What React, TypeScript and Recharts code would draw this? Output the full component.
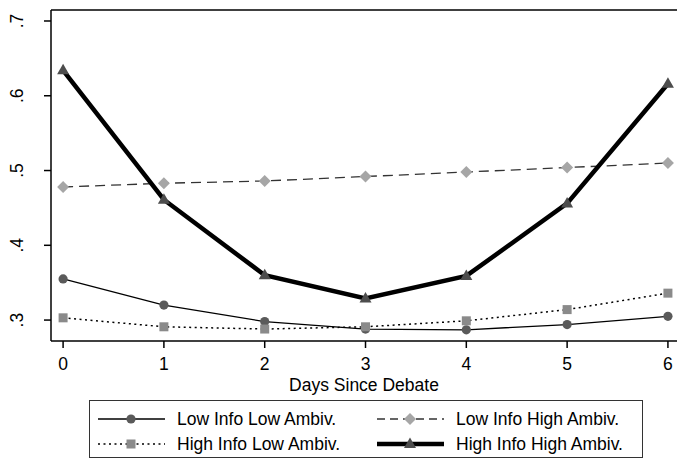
import { LineChart, Line, XAxis, YAxis, ReferenceLine, Label } from 'recharts';

const days = [0, 1, 2, 3, 4, 5, 6];
const lowInfoLowAmbiv = [0.355, 0.32, 0.298, 0.288, 0.287, 0.294, 0.305];
const lowInfoHighAmbiv = [0.478, 0.483, 0.486, 0.492, 0.498, 0.504, 0.51];
const highInfoLowAmbiv = [0.303, 0.291, 0.288, 0.291, 0.299, 0.314, 0.336];
const highInfoHighAmbiv = [0.634, 0.461, 0.36, 0.329, 0.359, 0.456, 0.616];
const yTicks = [0.3, 0.4, 0.5, 0.6, 0.7];

const X_MIN = -0.12;
const X_MAX = 6.09;
const Y_MIN = 0.272;
const Y_MAX = 0.7147;

const FONT = 'Arial, "Liberation Sans", sans-serif';
const FS = 17.5;

const data = days.map((d, i) => ({
  day: d,
  lowLow: lowInfoLowAmbiv[i],
  lowHigh: lowInfoHighAmbiv[i],
  highLow: highInfoLowAmbiv[i],
  highHigh: highInfoHighAmbiv[i],
}));

const circle = (fill: string) => (p: any) => (
  <circle key={`c${p.index}`} cx={p.cx} cy={p.cy} r={4.6} fill={fill} />
);
const square = (fill: string) => (p: any) => (
  <rect key={`s${p.index}`} x={p.cx - 4.5} y={p.cy - 4.5} width={9} height={9} fill={fill} />
);
const diamond = (fill: string) => (p: any) => (
  <polygon
    key={`d${p.index}`}
    points={`${p.cx},${p.cy - 6} ${p.cx + 6},${p.cy} ${p.cx},${p.cy + 6} ${p.cx - 6},${p.cy}`}
    fill={fill}
  />
);
const triangle = (fill: string) => (p: any) => (
  <polygon
    key={`t${p.index}`}
    points={`${p.cx},${p.cy - 6.5} ${p.cx + 6},${p.cy + 4} ${p.cx - 6},${p.cy + 4}`}
    fill={fill}
  />
);

const YTick = (props: any) => {
  const { y, payload } = props;
  return (
    <text
      x={23}
      y={y}
      transform={`rotate(-90, 23, ${y})`}
      textAnchor="middle"
      fontSize={FS}
      fontFamily={FONT}
      fill="#000"
    >
      {String(payload.value.toFixed(1)).replace(/^0/, '')}
    </text>
  );
};

const legendItems = [
  { label: 'Low Info Low Ambiv.', left: 8, top: 18, stroke: '#000', width: 1.3, dash: undefined, marker: 'circle', fill: '#5a5a5a' },
  { label: 'Low Info High Ambiv.', left: 287, top: 18, stroke: '#333', width: 1.3, dash: '8 5', marker: 'diamond', fill: '#a6a6a6' },
  { label: 'High Info Low Ambiv.', left: 8, top: 43, stroke: '#000', width: 1.5, dash: '2 3.5', marker: 'square', fill: '#8a8a8a' },
  { label: 'High Info High Ambiv.', left: 287, top: 43, stroke: '#000', width: 4.5, dash: undefined, marker: 'triangle', fill: '#4d4d4d' },
];

function Marker({ kind, fill, cx, cy }: { kind: string; fill: string; cx: number; cy: number }) {
  if (kind === 'circle') return <circle cx={cx} cy={cy} r={4.6} fill={fill} />;
  if (kind === 'square') return <rect x={cx - 4.5} y={cy - 4.5} width={9} height={9} fill={fill} />;
  if (kind === 'diamond')
    return <polygon points={`${cx},${cy - 6} ${cx + 6},${cy} ${cx},${cy + 6} ${cx - 6},${cy}`} fill={fill} />;
  return <polygon points={`${cx},${cy - 6.5} ${cx + 6},${cy + 4} ${cx - 6},${cy + 4}`} fill={fill} />;
}

export default function App() {
  return (
    <div style={{ position: 'absolute', left: 0, top: 0, width: 678, height: 462, background: '#fff', fontFamily: FONT }}>
      <LineChart width={678} height={400} data={data} margin={{ top: 10, right: 1, bottom: 8, left: 0 }}>
        <XAxis
          dataKey="day"
          type="number"
          domain={[X_MIN, X_MAX]}
          ticks={days}
          allowDataOverflow
          height={51}
          tickSize={7}
          tickMargin={9.5}
          stroke="#000"
          strokeWidth={1.5}
          tick={{ fill: '#000', fontSize: FS, fontFamily: FONT }}
        >
          <Label value="Days Since Debate" position="insideBottom" offset={1} fill="#000" fontSize={FS} fontFamily={FONT} />
        </XAxis>
        <YAxis
          type="number"
          domain={[Y_MIN, Y_MAX]}
          ticks={yTicks}
          allowDataOverflow
          width={51}
          tickSize={7}
          stroke="#000"
          strokeWidth={1.5}
          tick={<YTick />}
        />
        <ReferenceLine y={Y_MAX} stroke="#000" strokeWidth={1.5} />
        <Line
          dataKey="lowLow"
          stroke="#000"
          strokeWidth={1.3}
          dot={circle('#5a5a5a')}
          isAnimationActive={false}
        />
        <Line
          dataKey="highLow"
          stroke="#000"
          strokeWidth={1.5}
          strokeDasharray="2 3.5"
          dot={square('#8a8a8a')}
          isAnimationActive={false}
        />
        <Line
          dataKey="lowHigh"
          stroke="#333"
          strokeWidth={1.3}
          strokeDasharray="10 6"
          dot={diamond('#a6a6a6')}
          isAnimationActive={false}
        />
        <Line
          dataKey="highHigh"
          stroke="#000"
          strokeWidth={4.5}
          dot={triangle('#4d4d4d')}
          isAnimationActive={false}
        />
      </LineChart>
      <div
        style={{
          position: 'absolute',
          left: 89,
          top: 400,
          width: 552,
          height: 56,
          border: '1.5px solid #333',
        }}
      >
        {legendItems.map((it) => (
          <div key={it.label} style={{ position: 'absolute', left: it.left, top: it.top - 12, height: 24, whiteSpace: 'nowrap' }}>
            <svg width={68} height={24} style={{ position: 'absolute', left: 0, top: 0 }}>
              <line x1={0} y1={12} x2={67} y2={12} stroke={it.stroke} strokeWidth={it.width} strokeDasharray={it.dash} />
              <Marker kind={it.marker} fill={it.fill} cx={33} cy={12} />
            </svg>
            <span
              style={{
                position: 'absolute',
                left: 79,
                top: 0,
                lineHeight: '24px',
                fontSize: FS,
                color: '#000',
              }}
            >
              {it.label}
            </span>
          </div>
        ))}
      </div>
    </div>
  );
}
